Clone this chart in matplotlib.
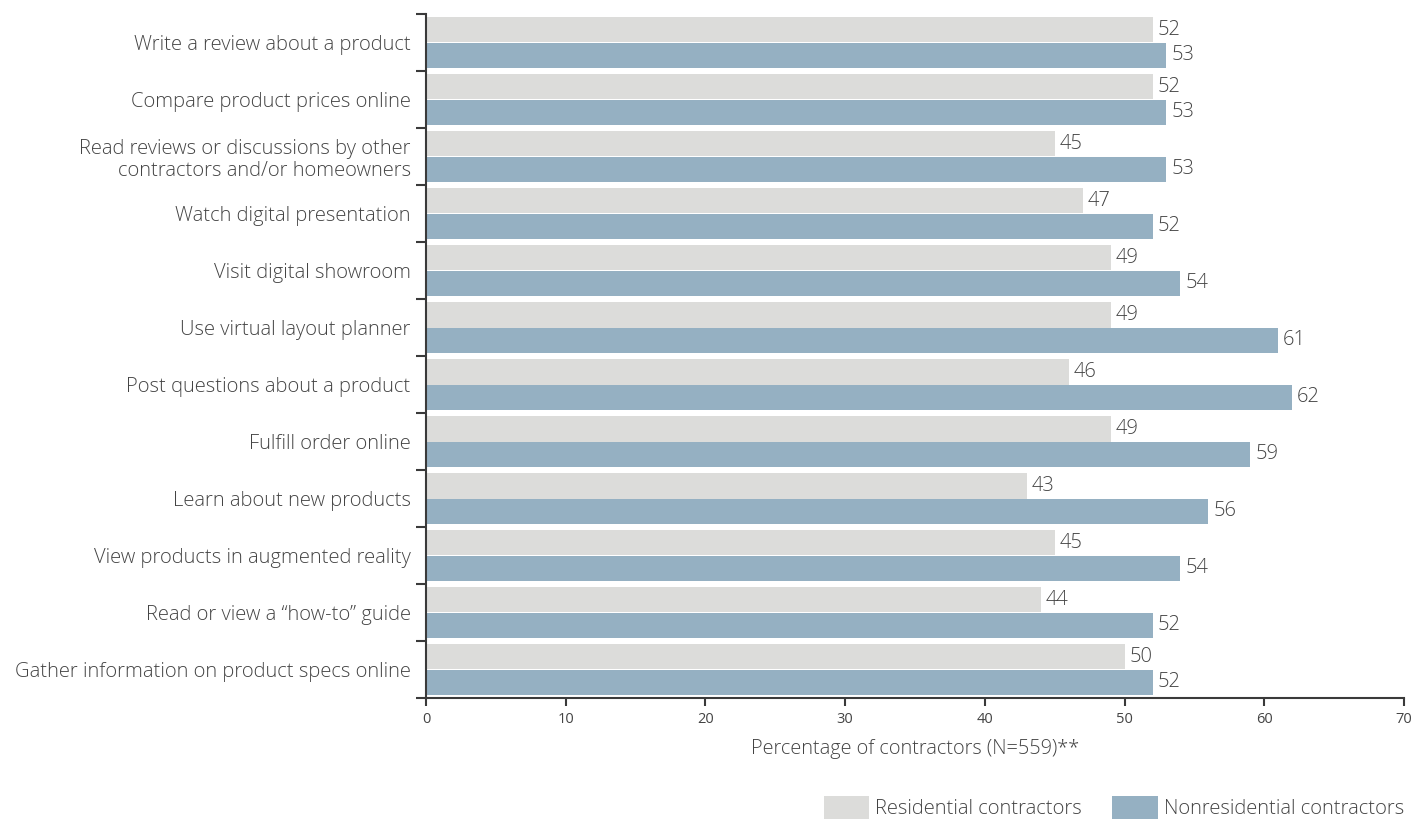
import matplotlib
matplotlib.use("Agg")
import matplotlib.pyplot as plt
from matplotlib.patches import Patch
import numpy as np

plt.rcParams['font.family'] = ['Open Sans', 'DejaVu Sans']
plt.rcParams['font.weight'] = 'light'

categories = [
    "Write a review about a product",
    "Compare product prices online",
    "Read reviews or discussions by other\ncontractors and/or homeowners",
    "Watch digital presentation",
    "Visit digital showroom",
    "Use virtual layout planner",
    "Post questions about a product",
    "Fulfill order online",
    "Learn about new products",
    "View products in augmented reality",
    "Read or view a \u201chow-to\u201d guide",
    "Gather information on product specs online",
]
residential = [52, 52, 45, 47, 49, 49, 46, 49, 43, 45, 44, 50]
nonresidential = [53, 53, 53, 52, 54, 61, 62, 59, 56, 54, 52, 52]
series_names = ["Residential contractors", "Nonresidential contractors"]
x_ticks = [0, 10, 20, 30, 40, 50, 60, 70]

gray = "#DCDCDA"
blue = "#95B0C2"
text_col = "#444444"
axis_col = "#3a3a3a"

fig = plt.figure(figsize=(14.26, 8.19), dpi=100)
ax = fig.add_axes([426 / 1426, 1 - 698 / 819, (1404 - 426) / 1426, (698 - 14) / 819])

y = np.arange(len(categories))
h = 0.44
ax.barh(y - 0.22, residential, height=h, color=gray, linewidth=0)
ax.barh(y + 0.22, nonresidential, height=h, color=blue, linewidth=0)

for yi, v in zip(y, residential):
    ax.text(v + 0.35, yi - 0.22, str(v), va="center", ha="left",
            fontsize=14.5, color=text_col, fontweight="light")
for yi, v in zip(y, nonresidential):
    ax.text(v + 0.35, yi + 0.22, str(v), va="center", ha="left",
            fontsize=14.5, color=text_col, fontweight="light")

ax.set_xlim(0, 70)
ax.set_ylim(len(categories) - 0.5, -0.5)

# group boundary ticks on the y axis, category names as untick'd minor labels
ax.set_yticks(np.arange(-0.5, len(categories), 1.0))
ax.set_yticklabels([])
ax.set_yticks(y, minor=True)
ax.set_yticklabels(categories, minor=True, fontsize=14.5, color=text_col,
                   ha="right", linespacing=1.12, fontweight="light")
ax.tick_params(axis="y", which="minor", length=0, pad=11)
ax.tick_params(axis="y", which="major", length=7, width=1.5, color=axis_col,
               direction="out")

ax.set_xticks(x_ticks)
ax.set_xticklabels([str(t) for t in x_ticks], fontsize=10.5, color=text_col,
                   fontweight="normal")
ax.tick_params(axis="x", length=6, width=1.5, color=axis_col, direction="out", pad=4)

for s in ["top", "right"]:
    ax.spines[s].set_visible(False)
for s in ["left", "bottom"]:
    ax.spines[s].set_color(axis_col)
    ax.spines[s].set_linewidth(1.5)

ax.set_xlabel("Percentage of contractors (N=559)**", fontsize=14.3, color=text_col,
              labelpad=9, fontweight="light")

handles = [Patch(facecolor=gray, edgecolor="none"), Patch(facecolor=blue, edgecolor="none")]
fig.legend(handles, series_names, loc="lower right", bbox_to_anchor=(1404 / 1426, 0.0),
           ncol=2, frameon=False, prop={"size": 14.5, "weight": "light"},
           handlelength=2.25, handleheight=1.4,
           handletextpad=0.3, columnspacing=1.5, borderaxespad=0.0, borderpad=0.0,
           labelcolor=text_col)

fig.savefig("out.png", dpi=100)
